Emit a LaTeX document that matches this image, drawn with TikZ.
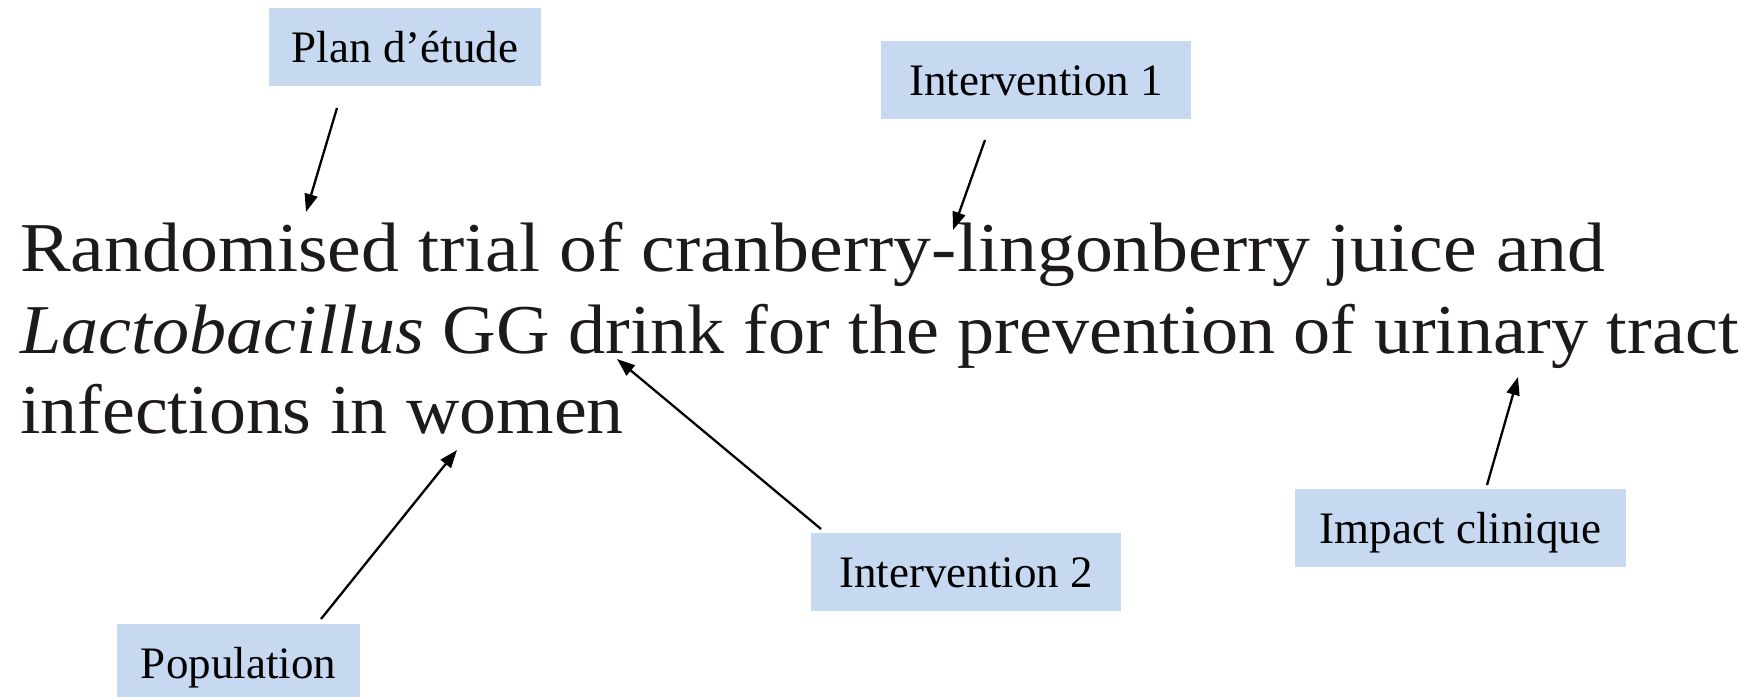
\documentclass[tikz,border=0pt]{standalone}
\usepackage{fontspec}
\setmainfont{Liberation Serif}
\usetikzlibrary{arrows.meta}
\definecolor{boxblue}{RGB}{198,217,240}
\definecolor{titleink}{RGB}{30,26,27}
\tikzset{
  labelbox/.style={fill=boxblue, inner sep=0pt, minimum height=78pt,
    text height=30pt, text depth=0pt, font=\fontsize{45}{54}\selectfont, text=black},
  titleline/.style={anchor=base west, inner sep=0pt, text=titleink,
    font=\fontsize{70}{81}\selectfont},
  pointer/.style={-{Triangle[length=18pt,width=13pt]}, line width=2.3pt, black},
}
\begin{document}
\begin{tikzpicture}[x=1pt,y=-1pt]
\useasboundingbox (0,0) rectangle (1753,696);
% title
\node[titleline] (title1) at (20,271) {\scalebox{1.083}[1]{Randomised trial of cranberry-lingonberry juice and}};
\node[titleline] (title2) at (20,353) {\scalebox{1.06}[1]{\textit{Lactobacillus} GG drink for the prevention of urinary tract}};
\node[titleline] (title3) at (20,433) {\scalebox{1.056}[1]{infections in women}};
% label boxes
\node[labelbox, minimum width=272pt] (plan) at (405,47) {Plan d’étude};
\node[labelbox, minimum width=310pt] (int1) at (1036,80) {Intervention 1};
\node[labelbox, minimum width=310pt] (int2) at (966,572) {Intervention 2};
\node[labelbox, minimum width=331pt] (impact) at (1460.5,528) {Impact clinique};
\node[labelbox, minimum width=243pt] (pop) at (238.5,663) {Population};
% arrow end points
\coordinate (planS) at (337,108);   \coordinate (planT) at (306,212);
\coordinate (int1S) at (985,140);   \coordinate (int1T) at (953,230);
\coordinate (int2S) at (821,529);   \coordinate (int2T) at (617,359);
\coordinate (impS) at (1487,485);   \coordinate (impT) at (1518,377);
\coordinate (popS) at (321,619);    \coordinate (popT) at (457,450);
\draw[pointer] (planS) -- (planT);
\draw[pointer] (int1S) -- (int1T);
\draw[pointer] (int2S) -- (int2T);
\draw[pointer] (impS) -- (impT);
\draw[pointer] (popS) -- (popT);
\end{tikzpicture}
\end{document}
